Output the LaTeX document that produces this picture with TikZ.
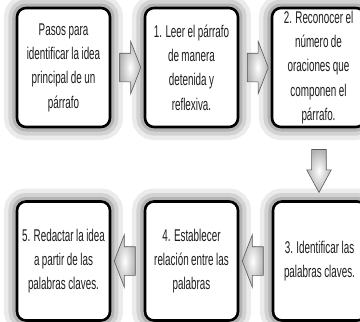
\documentclass[tikz,border=0pt]{standalone}
\usepackage{fontspec}
\setmainfont{Liberation Sans}[FakeStretch=0.58, WordSpace=0.9]
\usepackage{tikz}
\usetikzlibrary{shapes.arrows, calc}
\definecolor{ptext}{HTML}{1E1E1E}
\definecolor{parrowline}{HTML}{5A5A5A}
\definecolor{phalo}{HTML}{7A7A7A}
\newcommand{\pfont}{\fontsize{17pt}{24.3pt}\selectfont}
\tikzset{
  pbox/.style={draw=black, fill=white, rounded corners=9pt, line width=2.6pt,
               minimum width=93pt, minimum height=119pt,
               inner xsep=3pt, inner ysep=0pt, align=center, font=\pfont, text=ptext,
               preaction={draw=phalo, line width=26pt, opacity=.15},
               preaction={draw=phalo, line width=17pt, opacity=.22},
               preaction={draw=phalo, line width=9pt, opacity=.35}},
  parrow/.style={single arrow, draw=parrowline, line width=0.6pt,
                 inner color=white, outer color=gray!60,
                 inner xsep=0pt, inner ysep=14pt, minimum height=21pt,
                 single arrow head extend=12pt, single arrow tip angle=138},
  pdown/.style={parrow, inner ysep=7pt, minimum height=43pt,
                single arrow head extend=5pt, single arrow tip angle=57},
}

\begin{document}
\begin{tikzpicture}[x=1pt, y=-1pt]

  \useasboundingbox (0,0) rectangle (360,322);
  \clip (0,0) rectangle (360,322);

  %% first row, left to right
  \node[pbox] (p0) at (63.5,67.5)  {Pasos para\\identificar la idea\\principal de un\\párrafo};
  \node[pbox] (p1) at (191.5,67.5) {1. Leer el párrafo\\de manera\\detenida y\\reflexiva.};
  \node[pbox] (p2) at (318.5,67.5) {2. Reconocer el\\número de\\oraciones que\\componen el\\párrafo.};

  %% second row, right to left
  \node[pbox] (p3) at (319.5,261) {3. Identificar las\\palabras claves.};
  \node[pbox] (p4) at (191.5,261) {4. Establecer\\relación entre las\\palabras};
  \node[pbox] (p5) at (63.5,261)  {5. Redactar la idea\\a partir de las\\palabras claves.};

  %% block arrows between the steps
  \node[parrow] (a01) at ($(p0.east)!0.5!(p1.west)$) {};
  \node[parrow] (a12) at ($(p1.east)!0.5!(p2.west)$) {};
  \node[pdown, rotate=-90] (a23) at ($(p2.south)!0.5!(p3.north)$) {};
  \node[parrow, rotate=180] (a34) at ($(p3.west)!0.5!(p4.east)$) {};
  \node[parrow, rotate=180] (a45) at ($(p4.west)!0.5!(p5.east)$) {};

\end{tikzpicture}
\end{document}
